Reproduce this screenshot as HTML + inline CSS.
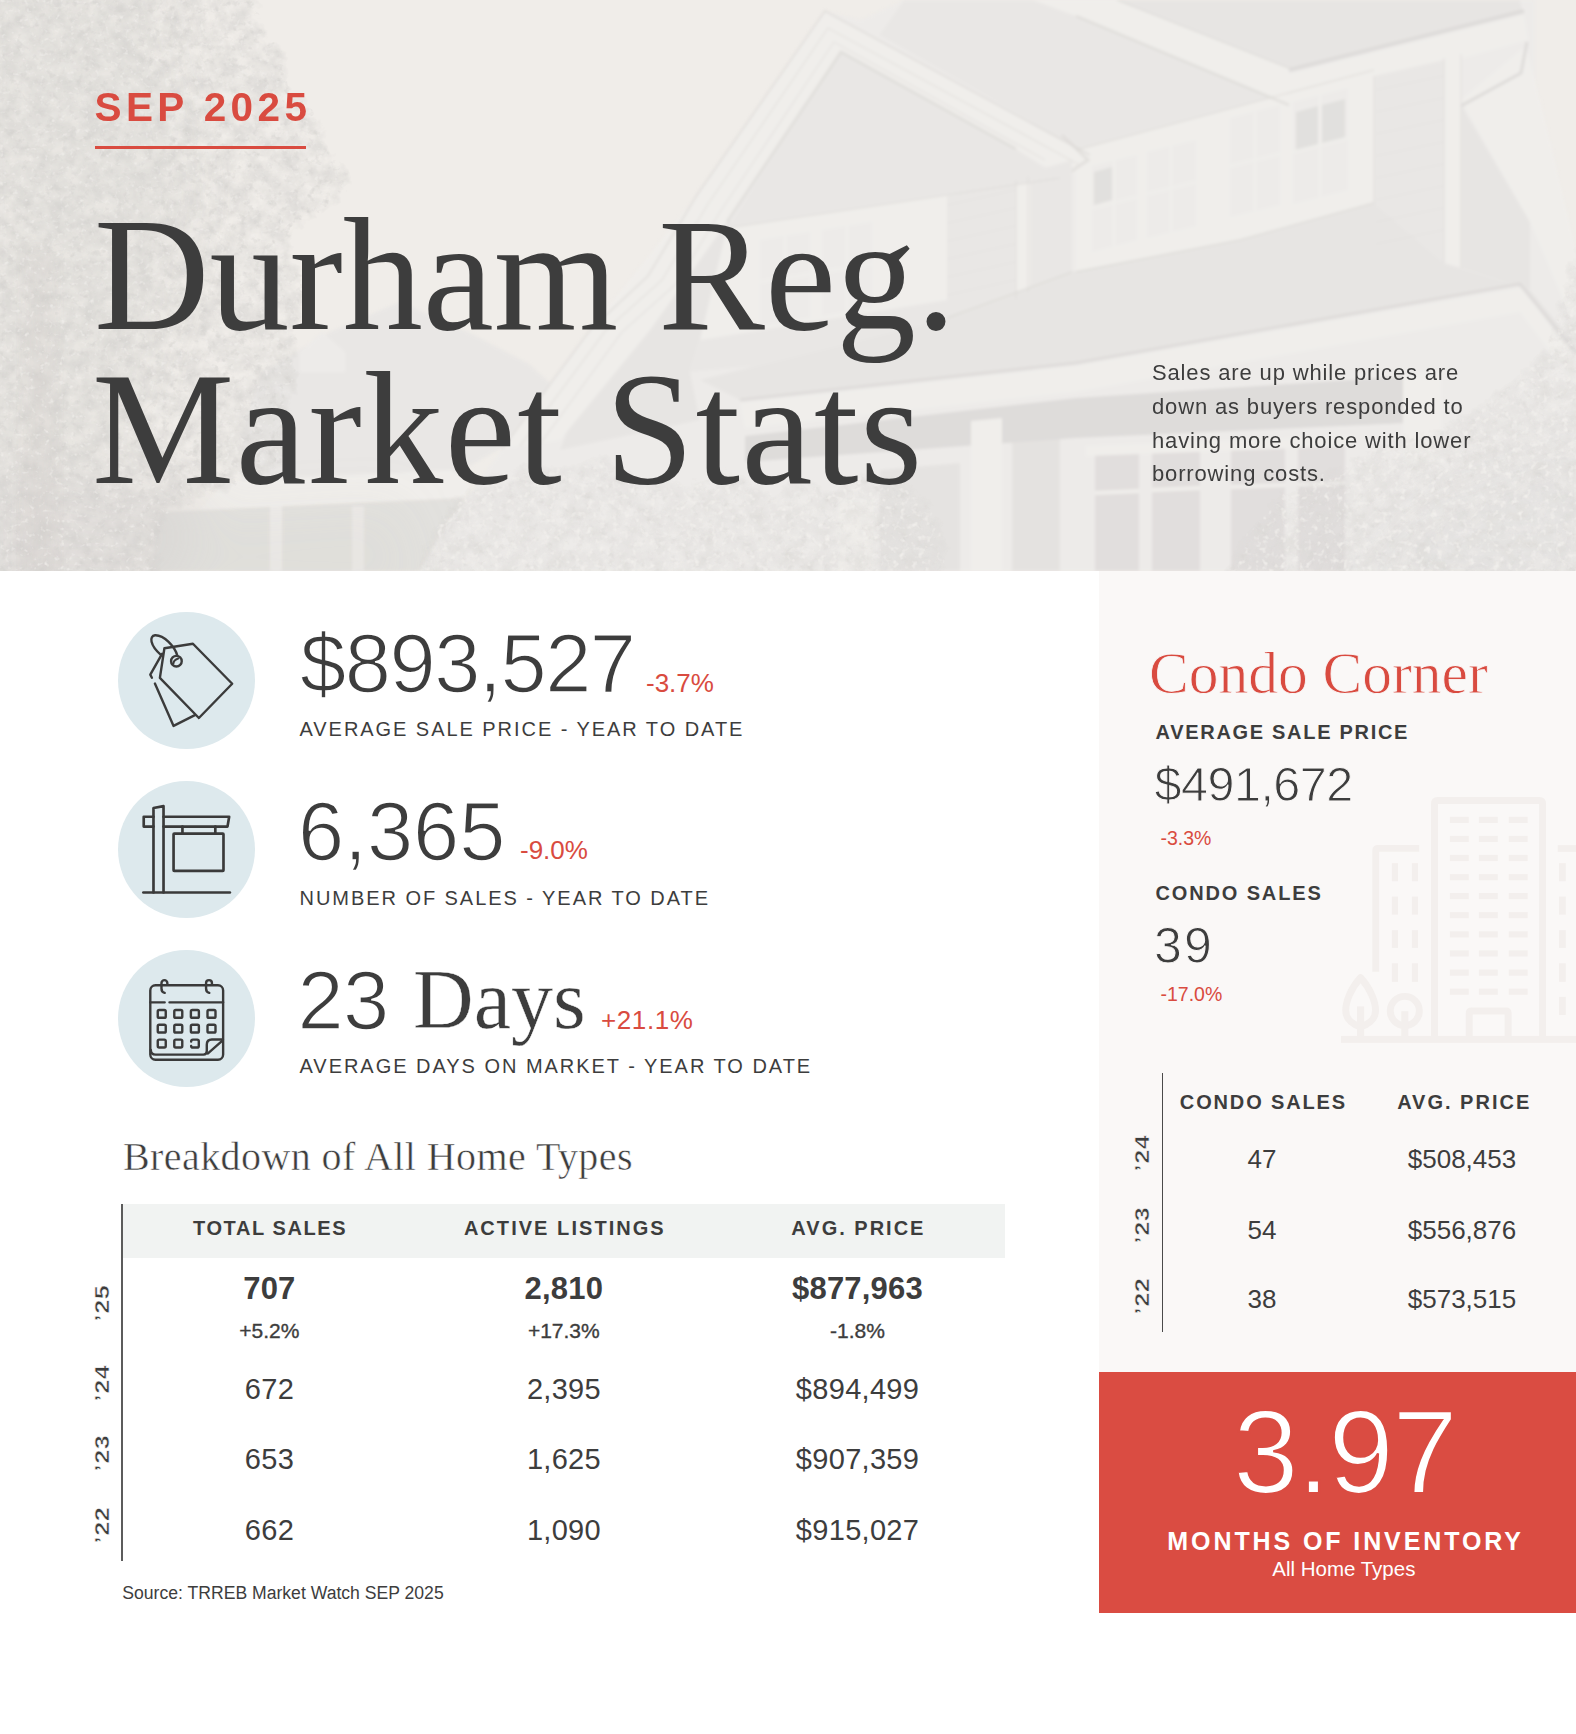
<!DOCTYPE html>
<html lang="en"><head><meta charset="utf-8"><title>Durham Reg. Market Stats</title>
<style>
html,body{margin:0;padding:0;background:#fff;}
body{width:1576px;height:1734px;position:relative;overflow:hidden;}
.t{position:absolute;white-space:nowrap;margin:0;padding:0;}
.r{position:absolute;}
svg{position:absolute;display:block;}
</style></head><body>
<svg style="left:0;top:0" width="1576" height="571" viewBox="0 0 1576 571">
<defs>
<filter id="soft" x="-2%" y="-2%" width="104%" height="104%"><feGaussianBlur stdDeviation="1.4"/></filter>
<filter id="fA" filterUnits="userSpaceOnUse" x="0" y="0" width="1576" height="571" color-interpolation-filters="sRGB">
<feTurbulence type="fractalNoise" baseFrequency="0.06 0.065" numOctaves="4" seed="7"/>
<feColorMatrix type="matrix" values="0 0 0 0 0  0 0 0 0 0  0 0 0 0 0  1 0 0 0 0" result="n"/>
<feGaussianBlur in="SourceAlpha" stdDeviation="7" result="sa"/>
<feComposite in="n" in2="sa" operator="arithmetic" k1="0" k2="0.5" k3="0.5" k4="0"/>
<feComponentTransfer result="a"><feFuncA type="linear" slope="3.2" intercept="-2.016"/></feComponentTransfer>
<feFlood flood-color="#dbd9d6"/><feComposite in2="a" operator="in"/>
</filter>
<filter id="fB" filterUnits="userSpaceOnUse" x="0" y="0" width="1576" height="571" color-interpolation-filters="sRGB">
<feTurbulence type="fractalNoise" baseFrequency="0.13 0.14" numOctaves="3" seed="21"/>
<feColorMatrix type="matrix" values="0 0 0 0 0  0 0 0 0 0  0 0 0 0 0  1 0 0 0 0" result="n"/>
<feGaussianBlur in="SourceAlpha" stdDeviation="6" result="sa"/>
<feComposite in="n" in2="sa" operator="arithmetic" k1="0" k2="0.5" k3="0.5" k4="0"/>
<feComponentTransfer result="a"><feFuncA type="linear" slope="4.0" intercept="-3.100"/></feComponentTransfer>
<feFlood flood-color="#d3d1ce"/><feComposite in2="a" operator="in"/>
</filter>
<filter id="fC" filterUnits="userSpaceOnUse" x="0" y="0" width="1576" height="571" color-interpolation-filters="sRGB">
<feTurbulence type="fractalNoise" baseFrequency="0.2 0.21" numOctaves="2" seed="5"/>
<feColorMatrix type="matrix" values="0 0 0 0 0  0 0 0 0 0  0 0 0 0 0  1 0 0 0 0" result="n"/>
<feGaussianBlur in="SourceAlpha" stdDeviation="6" result="sa"/>
<feComposite in="n" in2="sa" operator="arithmetic" k1="0" k2="0.5" k3="0.5" k4="0"/>
<feComponentTransfer result="a"><feFuncA type="linear" slope="5.0" intercept="-4.000"/></feComponentTransfer>
<feFlood flood-color="#f1efec"/><feComposite in2="a" operator="in"/>
</filter>
<filter id="fC2" filterUnits="userSpaceOnUse" x="0" y="0" width="1576" height="571" color-interpolation-filters="sRGB">
<feTurbulence type="fractalNoise" baseFrequency="0.16 0.17" numOctaves="2" seed="9"/>
<feColorMatrix type="matrix" values="0 0 0 0 0  0 0 0 0 0  0 0 0 0 0  1 0 0 0 0" result="n"/>
<feGaussianBlur in="SourceAlpha" stdDeviation="6" result="sa"/>
<feComposite in="n" in2="sa" operator="arithmetic" k1="0" k2="0.5" k3="0.5" k4="0"/>
<feComponentTransfer result="a"><feFuncA type="linear" slope="6.0" intercept="-4.620"/></feComponentTransfer>
<feFlood flood-color="#f1efec"/><feComposite in2="a" operator="in"/>
</filter>
<filter id="blur25"><feGaussianBlur stdDeviation="25"/></filter>
<filter id="blur8"><feGaussianBlur stdDeviation="8"/></filter>
</defs>
<rect width="1576" height="571" fill="#f0ede9"/>
<g filter="url(#soft)">
<polygon points="262,372 330,332 400,302 470,333 529,364 560,392 500,449 444,480 240,489 245,420" fill="#e9e7e5" />
<polygon points="300,352 322,332 345,352 345,372 300,372" fill="#edebe9" />
<polygon points="225,482 452,470 470,486 462,498 200,510" fill="#f0eeeb" />
<polygon points="160,512 462,498 462,571 150,571" fill="#dedcda" opacity="0.75" />
<polygon points="352,506 364,506 364,571 352,571" fill="#edebe9" opacity="0.8" />
<polygon points="270,506 282,506 282,571 270,571" fill="#edebe9" />
<polygon points="825,11 697,195 591,329 502,449 440,535 420,571 1576,571 1576,300 1535,230 1535,0 1100,0 904,0 860,20" fill="#edebe9" />
<polygon points="609,318 697,200 760,240 700,340 690,372 700,420 560,450" fill="#e7e5e3" />
<polygon points="879,35 904,0 1117,0 1289,68 1289,105 1090,155" fill="#e9e7e5" />
<polygon points="1117,0 1520,0 1522,10 1289,68" fill="#e7e5e3" />
<polygon points="1033,0 1117,0 1289,68 1289,105 1076,16" fill="#f0eeeb" />
<polyline points="1289,70 1524,11" fill="none" stroke="#dedcda" stroke-width="4"/>
<polygon points="1289,74 1524,15 1528,40 1289,106" fill="#f0eeeb" />
<polygon points="1461,100 1526,46 1545,120 1576,250 1576,330 1532,226" fill="#f0eeeb" />
<polyline points="1527,42 1521,73 1461,106 1461,130" fill="none" stroke="#dedcda" stroke-width="3"/>
<polygon points="1076,150 1374,70 1374,203 1240,240 1076,272" fill="#f0eeeb" />
<polygon points="1092,166 1137,155 1137,240 1092,252" fill="#edebe9" />
<polygon points="1147,152 1196,140 1196,226 1147,238" fill="#edebe9" />
<polygon points="1230,118 1280,105 1280,205 1230,217" fill="#edebe9" />
<polygon points="1293,102 1348,88 1348,190 1293,204" fill="#edebe9" />
<polygon points="1296,112 1318,106 1318,146 1296,152" fill="#dcdcd8" opacity="0.7" />
<polygon points="1322,105 1345,99 1345,139 1322,145" fill="#dcdcd8" opacity="0.7" />
<polygon points="1094,172 1112,167 1112,200 1094,205" fill="#dcdcd8" opacity="0.7" />
<polygon points="1374,76 1444,60 1444,263 1374,232" fill="#e9e7e5" />
<polygon points="1444,58 1461,54 1461,268 1444,263" fill="#f0eeeb" />
<polygon points="1461,105 1530,222 1530,290 1461,268" fill="#e7e5e3" />
<polygon points="841,52 1016,149 1060,178 727,228" fill="#e9e7e5" />
<polygon points="825,11 1090,155 1069,180 1016,149 841,52 727,222 650,330 560,440 500,449 591,329 697,195" fill="#f0eeeb" />
<polyline points="1062,135 1088,160 1076,168 1036,200 1036,290" fill="none" stroke="#dedcda" stroke-width="3" opacity="0.8"/>
<polygon points="727,228 1060,178 1072,272 947,318 700,340" fill="#f0eeeb" />
<polygon points="947,196 1016,180 1016,300 947,318" fill="#e9e7e5" />
<polygon points="1030,172 1072,160 1072,272 1030,288" fill="#e9e7e5" />
<polygon points="760,240 810,232 810,318 760,326" fill="#edebe9" />
<polygon points="822,230 872,222 872,308 822,316" fill="#edebe9" />
<polygon points="700,340 947,300 947,318 755,366 690,372" fill="#e9e7e5" />
<polygon points="700,380 755,366 947,318 1072,272 1240,240 1374,203 1444,263 1530,290 1576,345 1576,360 1520,284 1076,363 740,400" fill="#e7e5e3" />
<polyline points="740,400 1076,363 1520,284 1576,352" fill="none" stroke="#dedcda" stroke-width="3"/>
<polygon points="740,403 1076,366 1520,288 1576,358 1576,385 1520,312 1076,392 745,428" fill="#f0eeeb" />
<polygon points="745,436 1076,398 1409,376 1409,423 1076,438 745,462" fill="#dedcda" />
<polygon points="745,470 1076,440 1409,423 1409,571 745,571" fill="#edebe9" />
<polygon points="1095,455 1139,453 1139,571 1095,571" fill="#dedcda" opacity="0.85" />
<polyline points="1095,493 1139,491" fill="none" stroke="#f0eeeb" stroke-width="4"/>
<polygon points="1152,452 1200,450 1200,571 1152,571" fill="#dedcda" opacity="0.85" />
<polyline points="1152,490 1200,488" fill="none" stroke="#f0eeeb" stroke-width="4"/>
<polygon points="1231,449 1285,447 1285,571 1231,571" fill="#dedcda" opacity="0.85" />
<polyline points="1231,487 1285,485" fill="none" stroke="#f0eeeb" stroke-width="4"/>
<polygon points="1298,447 1345,445 1345,571 1298,571" fill="#dedcda" opacity="0.85" />
<polyline points="1298,485 1345,483" fill="none" stroke="#f0eeeb" stroke-width="4"/>
<polygon points="1086,446 1352,436 1352,446 1086,456" fill="#f0eeeb" />
<polygon points="971,421 1002,418 1002,571 971,571" fill="#f0eeeb" />
<polygon points="838,501 875,499 875,571 838,571" fill="#f0eeeb" />
<polygon points="1403,376 1441,372 1441,461 1403,465" fill="#f0eeeb" />
<polygon points="1012,440 1060,436 1060,571 1012,571" fill="#dedcda" opacity="0.6" />
<polygon points="880,470 960,463 960,571 880,571" fill="#dedcda" opacity="0.5" />
<polyline points="502,449 591,329 648,276 697,195 825,11 1090,155" fill="none" stroke="#dcdad7" stroke-width="1.6" opacity="0.8"/>
<polyline points="520,446 606,330 662,280 708,204 828,28 1078,164" fill="none" stroke="#dcdad7" stroke-width="1.3" opacity="0.6"/>
<polyline points="540,444 622,332 676,284 720,212 834,42 1045,160" fill="none" stroke="#dcdad7" stroke-width="1.3" opacity="0.5"/>
<polyline points="727,222 841,52 1016,149" fill="none" stroke="#dcdad7" stroke-width="3" opacity="0.7"/>
<polyline points="1117,0 1289,68" fill="none" stroke="#dcdad7" stroke-width="1.6" opacity="0.7"/>
<polyline points="1076,16 1289,105" fill="none" stroke="#dcdad7" stroke-width="2.5" opacity="0.7"/>
<polyline points="727,228 1060,178" fill="none" stroke="#dcdad7" stroke-width="1.5" opacity="0.6"/>
<polyline points="1076,150 1374,70" fill="none" stroke="#dcdad7" stroke-width="1.5" opacity="0.6"/>
<polyline points="1076,272 1240,240 1374,203" fill="none" stroke="#dcdad7" stroke-width="2" opacity="0.6"/>
<polyline points="947,318 1072,272" fill="none" stroke="#dcdad7" stroke-width="2" opacity="0.6"/>
<polyline points="1444,58 1444,263" fill="none" stroke="#dcdad7" stroke-width="1.3" opacity="0.6"/>
<polyline points="1461,54 1461,268" fill="none" stroke="#dcdad7" stroke-width="1.3" opacity="0.6"/>
<polyline points="1374,76 1374,203" fill="none" stroke="#dcdad7" stroke-width="1.3" opacity="0.6"/>
<polyline points="1016,180 1016,300" fill="none" stroke="#dcdad7" stroke-width="1.3" opacity="0.6"/>
<polyline points="1028,176 1028,292" fill="none" stroke="#dcdad7" stroke-width="1.3" opacity="0.6"/>
<polyline points="1114,160 1114,246" fill="none" stroke="#f0eeeb" stroke-width="3" opacity="0.9"/>
<polyline points="1171,146 1171,232" fill="none" stroke="#f0eeeb" stroke-width="3" opacity="0.9"/>
<polyline points="1255,112 1255,211" fill="none" stroke="#f0eeeb" stroke-width="3" opacity="0.9"/>
<polyline points="1320,95 1320,197" fill="none" stroke="#f0eeeb" stroke-width="3" opacity="0.9"/>
<polyline points="785,236 785,322" fill="none" stroke="#f0eeeb" stroke-width="3" opacity="0.9"/>
<polyline points="847,226 847,312" fill="none" stroke="#f0eeeb" stroke-width="3" opacity="0.9"/>
<polyline points="1092,208 1137,197" fill="none" stroke="#f0eeeb" stroke-width="3" opacity="0.9"/>
<polyline points="1147,194 1196,182" fill="none" stroke="#f0eeeb" stroke-width="3" opacity="0.9"/>
<polyline points="1230,166 1280,154" fill="none" stroke="#f0eeeb" stroke-width="3" opacity="0.9"/>
<polyline points="1293,152 1348,138" fill="none" stroke="#f0eeeb" stroke-width="3" opacity="0.9"/>
<polyline points="760,282 810,274" fill="none" stroke="#f0eeeb" stroke-width="3" opacity="0.9"/>
<polyline points="822,272 872,264" fill="none" stroke="#f0eeeb" stroke-width="3" opacity="0.9"/>
<polyline points="1376,90 1443,76" fill="none" stroke="#dcdad7" stroke-width="1" opacity="0.45"/>
<polyline points="1376,112 1443,98" fill="none" stroke="#dcdad7" stroke-width="1" opacity="0.45"/>
<polyline points="1376,134 1443,120" fill="none" stroke="#dcdad7" stroke-width="1" opacity="0.45"/>
<polyline points="1376,156 1443,142" fill="none" stroke="#dcdad7" stroke-width="1" opacity="0.45"/>
<polyline points="1376,178 1443,164" fill="none" stroke="#dcdad7" stroke-width="1" opacity="0.45"/>
<polyline points="1376,200 1443,186" fill="none" stroke="#dcdad7" stroke-width="1" opacity="0.45"/>
<polyline points="1376,222 1443,208" fill="none" stroke="#dcdad7" stroke-width="1" opacity="0.45"/>
<polyline points="1376,244 1443,230" fill="none" stroke="#dcdad7" stroke-width="1" opacity="0.45"/>
<polyline points="948,205 1015,190" fill="none" stroke="#dcdad7" stroke-width="1" opacity="0.45"/>
<polyline points="948,223 1015,208" fill="none" stroke="#dcdad7" stroke-width="1" opacity="0.45"/>
<polyline points="948,241 1015,226" fill="none" stroke="#dcdad7" stroke-width="1" opacity="0.45"/>
<polyline points="948,259 1015,244" fill="none" stroke="#dcdad7" stroke-width="1" opacity="0.45"/>
<polyline points="948,277 1015,262" fill="none" stroke="#dcdad7" stroke-width="1" opacity="0.45"/>
<polyline points="948,295 1015,280" fill="none" stroke="#dcdad7" stroke-width="1" opacity="0.45"/>
</g>
<g filter="url(#fA)"><polygon points="-30,-30 262,-30 266,20 289,50 296,85 322,110 334,150 358,172 352,198 326,214 300,232 290,256 318,282 310,310 302,330 300,400 292,470 215,500 170,520 160,600 -30,600"/></g>
<g filter="url(#fA)" opacity="0.62"><polygon points="570,600 582,530 606,498 640,474 700,478 720,462 770,488 800,474 830,486 860,464 900,476 934,498 950,540 955,600"/><polygon points="1205,600 1235,540 1275,490 1330,466 1380,436 1430,426 1488,394 1520,366 1540,346 1556,300 1566,250 1600,230 1600,600"/><polygon points="410,600 420,545 440,505 470,480 520,462 575,460 600,450 640,474 650,600"/></g>
<g filter="url(#blur25)" fill="#cfcdca">
<polygon points="-30,470 200,490 160,600 -30,600" opacity="0.4"/>
<polygon points="-30,-30 150,-30 200,200 120,480 -30,480" opacity="0.2"/>
<polygon points="1330,600 1420,500 1600,430 1600,600" opacity="0.12"/>
<polygon points="150,520 400,505 420,600 150,600" opacity="0.15"/>
</g>
<g filter="url(#blur8)" fill="#cfcdca"><polygon points="24,250 52,250 60,600 20,600" opacity="0.3"/></g>
<g filter="url(#fB)"><polygon points="-30,-30 262,-30 266,20 289,50 296,85 322,110 334,150 358,172 352,198 326,214 300,232 290,256 318,282 310,310 302,330 300,400 292,470 215,500 170,520 160,600 -30,600"/></g>
<g filter="url(#fB)" opacity="0.5"><polygon points="570,600 582,530 606,498 640,474 700,478 720,462 770,488 800,474 830,486 860,464 900,476 934,498 950,540 955,600"/><polygon points="1205,600 1235,540 1275,490 1330,466 1380,436 1430,426 1488,394 1520,366 1540,346 1556,300 1566,250 1600,230 1600,600"/><polygon points="410,600 420,545 440,505 470,480 520,462 575,460 600,450 640,474 650,600"/></g>
<g filter="url(#fC)"><polygon points="-30,-30 262,-30 266,20 289,50 296,85 322,110 334,150 358,172 352,198 326,214 300,232 290,256 318,282 310,310 302,330 300,400 292,470 215,500 170,520 160,600 -30,600"/></g>
<g filter="url(#fC2)"><polygon points="570,600 582,530 606,498 640,474 700,478 720,462 770,488 800,474 830,486 860,464 900,476 934,498 950,540 955,600"/><polygon points="1205,600 1235,540 1275,490 1330,466 1380,436 1430,426 1488,394 1520,366 1540,346 1556,300 1566,250 1600,230 1600,600"/><polygon points="410,600 420,545 440,505 470,480 520,462 575,460 600,450 640,474 650,600"/></g>
</svg>
<div class="t" style="left:94.50px;top:86.72px;font:700 40.5px/1 'Liberation Sans', Arial, sans-serif;color:#d94b40;letter-spacing:4.4px;">SEP 2025</div>
<div class="r" style="left:94.5px;top:146px;width:211px;height:3px;background:#d94b40;"></div>
<div class="t" style="left:94.00px;top:195.00px;font:400 160px/1 'Liberation Serif', 'Times New Roman', serif;color:#3d3d3d;">Durham Reg.</div>
<div class="t" style="left:92.00px;top:348.60px;font:400 160px/1 'Liberation Serif', 'Times New Roman', serif;color:#3d3d3d;letter-spacing:1.55px;">Market Stats</div>
<div class="t" style="left:1152.00px;top:361.98px;font:400 22px/1 'Liberation Sans', Arial, sans-serif;color:#3d3d3d;letter-spacing:0.85px;">Sales are up while prices are</div>
<div class="t" style="left:1152.00px;top:395.78px;font:400 22px/1 'Liberation Sans', Arial, sans-serif;color:#3d3d3d;letter-spacing:0.85px;">down as buyers responded to</div>
<div class="t" style="left:1152.00px;top:429.58px;font:400 22px/1 'Liberation Sans', Arial, sans-serif;color:#3d3d3d;letter-spacing:0.85px;">having more choice with lower</div>
<div class="t" style="left:1152.00px;top:463.38px;font:400 22px/1 'Liberation Sans', Arial, sans-serif;color:#3d3d3d;letter-spacing:0.85px;">borrowing costs.</div>
<div class="r" style="left:118px;top:612.0px;width:137px;height:137px;border-radius:50%;background:#dde9ed"></div>
<div class="r" style="left:118px;top:781.0px;width:137px;height:137px;border-radius:50%;background:#dde9ed"></div>
<div class="r" style="left:118px;top:950.0px;width:137px;height:137px;border-radius:50%;background:#dde9ed"></div>
<svg style="left:116px;top:610px" width="140" height="140" viewBox="0 0 1576 1576" fill="none" stroke="#3b3b3b" stroke-width="27" stroke-linecap="round" stroke-linejoin="round">
<path d="M545 430 L866 380 L1308 830 L933 1216 L494 764 Z"/>
<circle cx="680" cy="576" r="60"/>
<path d="M646 600 Q652 560 700 546" stroke-width="24"/>
<path d="M690 512 C662 410 540 280 440 284 C372 292 380 400 508 508"/>
<path d="M520 492 L386 728 L404 762"/>
<path d="M438 828 L648 1305 L888 1184"/>
</svg>
<svg style="left:116px;top:779px" width="140" height="140" viewBox="0 0 1576 1576" fill="none" stroke="#3a3a3a" stroke-width="30" stroke-linecap="round" stroke-linejoin="round">
<path d="M308 1278 L1282 1278"/>
<path d="M422 1278 L422 326 L535 306 L535 1278"/>
<path d="M422 425 L312 425 L312 536 L422 536"/>
<path d="M535 425 L1274 425 L1255 536 L535 536"/>
<path d="M748 536 L748 615 M1118 536 L1118 615"/>
<rect x="648" y="615" width="562" height="420" rx="8"/>
</svg>
<svg style="left:116px;top:948px" width="140" height="140" viewBox="0 0 1576 1576" fill="none" stroke="#3a3a3a" stroke-width="27" stroke-linecap="round" stroke-linejoin="round">
<rect x="386" y="420" width="820" height="838" rx="58"/>
<path d="M386 612 L548 612 M602 612 L1206 612"/>
<path d="M548 505 Q512 495 512 455 L512 395 A33 33 0 0 1 578 395 L578 410"/>
<path d="M1050 505 Q1014 495 1014 455 L1014 395 A33 33 0 0 1 1080 395 L1080 410"/>
<g>
<rect x="470" y="698" width="90" height="88" rx="16"/><rect x="656" y="698" width="90" height="88" rx="16"/><rect x="843" y="698" width="90" height="88" rx="16"/><rect x="1030" y="698" width="90" height="88" rx="16"/>
<rect x="470" y="864" width="90" height="88" rx="16"/><rect x="656" y="864" width="90" height="88" rx="16"/><rect x="843" y="864" width="90" height="88" rx="16"/><rect x="1030" y="864" width="90" height="88" rx="16"/>
<rect x="470" y="1032" width="90" height="88" rx="16"/><rect x="656" y="1032" width="90" height="88" rx="16"/>
<path d="M846 1052 Q846 1032 866 1032 L914 1032 Q932 1032 932 1050 L932 1102 Q932 1120 914 1120 L866 1120 Q846 1120 846 1102"/>
</g>
<path d="M392 1148 Q392 1200 446 1200 L984 1200 Q1022 1200 1022 1160 L1022 1088 Q1022 1030 1080 1030 L1204 1030"/>
<path d="M1032 1188 L1198 1042"/>
</svg>

<div class="t" style="left:300.00px;top:621.94px;font:400 83px/1 'Liberation Sans', Arial, sans-serif;color:#3d3d3d;letter-spacing:-1.45px;-webkit-text-stroke:1.6px #fff;">$893,527</div>
<div class="t" style="left:646.00px;top:669.69px;font:400 26px/1 'Liberation Sans', Arial, sans-serif;color:#d94b40;">-3.7%</div>
<div class="t" style="left:299.50px;top:719.07px;font:400 20px/1 'Liberation Sans', Arial, sans-serif;color:#3d3d3d;letter-spacing:1.95px;">AVERAGE SALE PRICE - YEAR TO DATE</div>
<div class="t" style="left:298.00px;top:789.74px;font:400 83px/1 'Liberation Sans', Arial, sans-serif;color:#3d3d3d;letter-spacing:-0.1px;-webkit-text-stroke:1.6px #fff;">6,365</div>
<div class="t" style="left:520.00px;top:837.49px;font:400 26px/1 'Liberation Sans', Arial, sans-serif;color:#d94b40;">-9.0%</div>
<div class="t" style="left:299.50px;top:888.07px;font:400 20px/1 'Liberation Sans', Arial, sans-serif;color:#3d3d3d;letter-spacing:1.95px;">NUMBER OF SALES - YEAR TO DATE</div>
<div class="t" style="left:297.50px;top:959.04px;font:400 83px/1 'Liberation Sans', Arial, sans-serif;color:#3d3d3d;letter-spacing:-0.6px;-webkit-text-stroke:1.6px #fff;">23</div>
<div class="t" style="left:413.00px;top:958.45px;font:400 84px/1 'Liberation Serif', 'Times New Roman', serif;color:#3d3d3d;-webkit-text-stroke:0.4px #fff;">Days</div>
<div class="t" style="left:601.00px;top:1006.79px;font:400 26px/1 'Liberation Sans', Arial, sans-serif;color:#d94b40;letter-spacing:0.6px;">+21.1%</div>
<div class="t" style="left:299.50px;top:1056.37px;font:400 20px/1 'Liberation Sans', Arial, sans-serif;color:#3d3d3d;letter-spacing:1.97px;">AVERAGE DAYS ON MARKET - YEAR TO DATE</div>
<div class="t" style="left:123.00px;top:1137.00px;font:400 40px/1 'Liberation Serif', 'Times New Roman', serif;color:#3d3d3d;letter-spacing:0.42px;-webkit-text-stroke:0.5px #fff;">Breakdown of All Home Types</div>
<div class="r" style="left:122px;top:1203.6px;width:882.6px;height:54.8px;background:#f1f3f2;"></div>
<div class="r" style="left:121.3px;top:1204px;width:1.6px;height:357px;background:#5c5c5c;"></div>
<div class="t" style="left:269.30px;top:1217.87px;font:700 20px/1 'Liberation Sans', Arial, sans-serif;color:#3d3d3d;letter-spacing:1.6px;transform:translateX(-50%);margin-left:0.80px;">TOTAL SALES</div>
<div class="t" style="left:563.80px;top:1217.87px;font:700 20px/1 'Liberation Sans', Arial, sans-serif;color:#3d3d3d;letter-spacing:2.05px;transform:translateX(-50%);margin-left:1.02px;">ACTIVE LISTINGS</div>
<div class="t" style="left:857.40px;top:1217.87px;font:700 20px/1 'Liberation Sans', Arial, sans-serif;color:#3d3d3d;letter-spacing:2.0px;transform:translateX(-50%);margin-left:1.00px;">AVG. PRICE</div>
<div class="t" style="left:269.30px;top:1273.46px;font:700 31px/1 'Liberation Sans', Arial, sans-serif;color:#3d3d3d;letter-spacing:0.2px;transform:translateX(-50%);margin-left:0.10px;">707</div>
<div class="t" style="left:563.80px;top:1273.46px;font:700 31px/1 'Liberation Sans', Arial, sans-serif;color:#3d3d3d;letter-spacing:0.2px;transform:translateX(-50%);margin-left:0.10px;">2,810</div>
<div class="t" style="left:857.40px;top:1273.46px;font:700 31px/1 'Liberation Sans', Arial, sans-serif;color:#3d3d3d;letter-spacing:0.2px;transform:translateX(-50%);margin-left:0.10px;">$877,963</div>
<div class="t" style="left:269.30px;top:1320.02px;font:400 21px/1 'Liberation Sans', Arial, sans-serif;color:#3d3d3d;transform:translateX(-50%);-webkit-text-stroke:0.35px #3d3d3d;">+5.2%</div>
<div class="t" style="left:563.80px;top:1320.02px;font:400 21px/1 'Liberation Sans', Arial, sans-serif;color:#3d3d3d;transform:translateX(-50%);-webkit-text-stroke:0.35px #3d3d3d;">+17.3%</div>
<div class="t" style="left:857.40px;top:1320.02px;font:400 21px/1 'Liberation Sans', Arial, sans-serif;color:#3d3d3d;transform:translateX(-50%);-webkit-text-stroke:0.35px #3d3d3d;">-1.8%</div>
<div class="t" style="left:269.30px;top:1375.05px;font:400 29px/1 'Liberation Sans', Arial, sans-serif;color:#3d3d3d;letter-spacing:0.3px;transform:translateX(-50%);margin-left:0.15px;">672</div>
<div class="t" style="left:563.80px;top:1375.05px;font:400 29px/1 'Liberation Sans', Arial, sans-serif;color:#3d3d3d;letter-spacing:0.3px;transform:translateX(-50%);margin-left:0.15px;">2,395</div>
<div class="t" style="left:857.40px;top:1375.05px;font:400 29px/1 'Liberation Sans', Arial, sans-serif;color:#3d3d3d;letter-spacing:0.3px;transform:translateX(-50%);margin-left:0.15px;">$894,499</div>
<div class="t" style="left:269.30px;top:1445.45px;font:400 29px/1 'Liberation Sans', Arial, sans-serif;color:#3d3d3d;letter-spacing:0.3px;transform:translateX(-50%);margin-left:0.15px;">653</div>
<div class="t" style="left:563.80px;top:1445.45px;font:400 29px/1 'Liberation Sans', Arial, sans-serif;color:#3d3d3d;letter-spacing:0.3px;transform:translateX(-50%);margin-left:0.15px;">1,625</div>
<div class="t" style="left:857.40px;top:1445.45px;font:400 29px/1 'Liberation Sans', Arial, sans-serif;color:#3d3d3d;letter-spacing:0.3px;transform:translateX(-50%);margin-left:0.15px;">$907,359</div>
<div class="t" style="left:269.30px;top:1515.75px;font:400 29px/1 'Liberation Sans', Arial, sans-serif;color:#3d3d3d;letter-spacing:0.3px;transform:translateX(-50%);margin-left:0.15px;">662</div>
<div class="t" style="left:563.80px;top:1515.75px;font:400 29px/1 'Liberation Sans', Arial, sans-serif;color:#3d3d3d;letter-spacing:0.3px;transform:translateX(-50%);margin-left:0.15px;">1,090</div>
<div class="t" style="left:857.40px;top:1515.75px;font:400 29px/1 'Liberation Sans', Arial, sans-serif;color:#3d3d3d;letter-spacing:0.3px;transform:translateX(-50%);margin-left:0.15px;">$915,027</div>
<div class="t" style="left:101.2px;top:1302.50px;font:700 21px/1 'Liberation Sans', Arial, sans-serif;color:#3d3d3d;letter-spacing:0.5px;-webkit-text-stroke:0.5px #fff;transform:translate(-50%,-50%) rotate(-90deg) scaleX(1.2);">’25</div>
<div class="t" style="left:101.2px;top:1382.60px;font:700 21px/1 'Liberation Sans', Arial, sans-serif;color:#3d3d3d;letter-spacing:0.5px;-webkit-text-stroke:0.5px #fff;transform:translate(-50%,-50%) rotate(-90deg) scaleX(1.2);">’24</div>
<div class="t" style="left:101.2px;top:1453.20px;font:700 21px/1 'Liberation Sans', Arial, sans-serif;color:#3d3d3d;letter-spacing:0.5px;-webkit-text-stroke:0.5px #fff;transform:translate(-50%,-50%) rotate(-90deg) scaleX(1.2);">’23</div>
<div class="t" style="left:101.2px;top:1524.50px;font:700 21px/1 'Liberation Sans', Arial, sans-serif;color:#3d3d3d;letter-spacing:0.5px;-webkit-text-stroke:0.5px #fff;transform:translate(-50%,-50%) rotate(-90deg) scaleX(1.2);">’22</div>
<div class="t" style="left:122.30px;top:1584.50px;font:400 17.6px/1 'Liberation Sans', Arial, sans-serif;color:#3d3d3d;">Source: TRREB Market Watch SEP 2025</div>
<div class="r" style="left:1099px;top:571px;width:477px;height:801px;background:#faf8f7;"></div>
<svg style="left:1330px;top:780px" width="246" height="280" viewBox="0 0 1523 1734" fill="#f3efed" stroke="none">
<rect x="68" y="1585" width="1460" height="43"/>
<path d="M647 1606 L647 147 Q647 127 667 127 L1296 127 Q1316 127 1316 147 L1316 1606" fill="none" stroke="#f3efed" stroke-width="43"/>
<path d="M862 1606 L862 1445 Q862 1430 877 1430 L1088 1430 Q1103 1430 1103 1445 L1103 1606" fill="none" stroke="#f3efed" stroke-width="43"/>
<path d="M552 424 L297 424 Q283 424 283 438 L283 1188" fill="none" stroke="#f3efed" stroke-width="42"/>
<path d="M1410 424 L1530 424" fill="none" stroke="#f3efed" stroke-width="42"/>
<rect x="742" y="228" width="117" height="38"/><rect x="922" y="228" width="117" height="38"/><rect x="1107" y="228" width="117" height="38"/><rect x="742" y="346" width="117" height="38"/><rect x="922" y="346" width="117" height="38"/><rect x="1107" y="346" width="117" height="38"/><rect x="742" y="464" width="117" height="38"/><rect x="922" y="464" width="117" height="38"/><rect x="1107" y="464" width="117" height="38"/><rect x="742" y="583" width="117" height="38"/><rect x="922" y="583" width="117" height="38"/><rect x="1107" y="583" width="117" height="38"/><rect x="742" y="700" width="117" height="38"/><rect x="922" y="700" width="117" height="38"/><rect x="1107" y="700" width="117" height="38"/><rect x="742" y="818" width="117" height="38"/><rect x="922" y="818" width="117" height="38"/><rect x="1107" y="818" width="117" height="38"/><rect x="742" y="937" width="117" height="38"/><rect x="922" y="937" width="117" height="38"/><rect x="1107" y="937" width="117" height="38"/><rect x="742" y="1055" width="117" height="38"/><rect x="922" y="1055" width="117" height="38"/><rect x="1107" y="1055" width="117" height="38"/><rect x="742" y="1174" width="117" height="38"/><rect x="922" y="1174" width="117" height="38"/><rect x="1107" y="1174" width="117" height="38"/><rect x="742" y="1292" width="117" height="38"/><rect x="922" y="1292" width="117" height="38"/><rect x="1107" y="1292" width="117" height="38"/><rect x="383" y="515" width="38" height="112"/><rect x="507" y="515" width="38" height="112"/><rect x="383" y="722" width="38" height="112"/><rect x="507" y="722" width="38" height="112"/><rect x="383" y="930" width="38" height="110"/><rect x="507" y="930" width="38" height="110"/><rect x="383" y="1135" width="38" height="115"/><rect x="507" y="1135" width="38" height="115"/><rect x="1418" y="515" width="42" height="112"/><rect x="1418" y="722" width="42" height="112"/><rect x="1418" y="930" width="42" height="110"/><rect x="1418" y="1135" width="42" height="115"/><rect x="1418" y="1343" width="42" height="112"/>
<path d="M189 1224 C250 1292 282 1372 282 1428 C282 1490 232 1514 189 1530 C146 1514 97 1490 97 1428 C97 1372 128 1292 189 1224 Z" fill="none" stroke="#f3efed" stroke-width="43" stroke-linejoin="round"/>
<rect x="167" y="1402" width="44" height="190"/>
<circle cx="463" cy="1430" r="90" fill="none" stroke="#f3efed" stroke-width="43"/>
<rect x="441" y="1432" width="44" height="160"/>
</svg>

<div class="t" style="left:1149.00px;top:644.47px;font:400 59.5px/1 'Liberation Serif', 'Times New Roman', serif;color:#d94b40;-webkit-text-stroke:0.8px #faf8f7;">Condo Corner</div>
<div class="t" style="left:1155.50px;top:722.07px;font:700 20px/1 'Liberation Sans', Arial, sans-serif;color:#3d3d3d;letter-spacing:1.7px;">AVERAGE SALE PRICE</div>
<div class="t" style="left:1154.50px;top:760.34px;font:400 48.5px/1 'Liberation Sans', Arial, sans-serif;color:#3d3d3d;letter-spacing:-0.5px;-webkit-text-stroke:1px #faf8f7;">$491,672</div>
<div class="t" style="left:1160.50px;top:828.89px;font:400 19.5px/1 'Liberation Sans', Arial, sans-serif;color:#d94b40;">-3.3%</div>
<div class="t" style="left:1155.50px;top:882.97px;font:700 20px/1 'Liberation Sans', Arial, sans-serif;color:#3d3d3d;letter-spacing:1.86px;">CONDO SALES</div>
<div class="t" style="left:1154.00px;top:920.88px;font:400 50px/1 'Liberation Sans', Arial, sans-serif;color:#3d3d3d;letter-spacing:2.2px;-webkit-text-stroke:1px #faf8f7;">39</div>
<div class="t" style="left:1160.50px;top:985.39px;font:400 19.5px/1 'Liberation Sans', Arial, sans-serif;color:#d94b40;">-17.0%</div>
<div class="r" style="left:1161.6px;top:1072.6px;width:1.5px;height:259px;background:#4a4a4a;"></div>
<div class="t" style="left:1262.50px;top:1092.27px;font:700 20px/1 'Liberation Sans', Arial, sans-serif;color:#3d3d3d;letter-spacing:1.86px;transform:translateX(-50%);margin-left:0.93px;">CONDO SALES</div>
<div class="t" style="left:1463.20px;top:1092.27px;font:700 20px/1 'Liberation Sans', Arial, sans-serif;color:#3d3d3d;letter-spacing:2.0px;transform:translateX(-50%);margin-left:1.00px;">AVG. PRICE</div>
<div class="t" style="left:1262.00px;top:1145.59px;font:400 26px/1 'Liberation Sans', Arial, sans-serif;color:#3d3d3d;transform:translateX(-50%);">47</div>
<div class="t" style="left:1462.00px;top:1145.59px;font:400 26px/1 'Liberation Sans', Arial, sans-serif;color:#3d3d3d;transform:translateX(-50%);">$508,453</div>
<div class="t" style="left:1140.6px;top:1153.00px;font:700 21px/1 'Liberation Sans', Arial, sans-serif;color:#3d3d3d;letter-spacing:0.5px;-webkit-text-stroke:0.5px #faf8f7;transform:translate(-50%,-50%) rotate(-90deg) scaleX(1.2);">’24</div>
<div class="t" style="left:1262.00px;top:1216.59px;font:400 26px/1 'Liberation Sans', Arial, sans-serif;color:#3d3d3d;transform:translateX(-50%);">54</div>
<div class="t" style="left:1462.00px;top:1216.59px;font:400 26px/1 'Liberation Sans', Arial, sans-serif;color:#3d3d3d;transform:translateX(-50%);">$556,876</div>
<div class="t" style="left:1140.6px;top:1225.20px;font:700 21px/1 'Liberation Sans', Arial, sans-serif;color:#3d3d3d;letter-spacing:0.5px;-webkit-text-stroke:0.5px #faf8f7;transform:translate(-50%,-50%) rotate(-90deg) scaleX(1.2);">’23</div>
<div class="t" style="left:1262.00px;top:1286.49px;font:400 26px/1 'Liberation Sans', Arial, sans-serif;color:#3d3d3d;transform:translateX(-50%);">38</div>
<div class="t" style="left:1462.00px;top:1286.49px;font:400 26px/1 'Liberation Sans', Arial, sans-serif;color:#3d3d3d;transform:translateX(-50%);">$573,515</div>
<div class="t" style="left:1140.6px;top:1296.10px;font:700 21px/1 'Liberation Sans', Arial, sans-serif;color:#3d3d3d;letter-spacing:0.5px;-webkit-text-stroke:0.5px #faf8f7;transform:translate(-50%,-50%) rotate(-90deg) scaleX(1.2);">’22</div>
<div class="r" style="left:1099px;top:1372px;width:477px;height:241px;background:#da4c42;"></div>
<div class="t" style="left:1345.50px;top:1393.11px;font:400 118px/1 'Liberation Sans', Arial, sans-serif;color:#fff;letter-spacing:-1.6px;transform:translateX(-50%);margin-left:-0.80px;-webkit-text-stroke:2.2px #da4c42;">3.97</div>
<div class="t" style="left:1344.20px;top:1528.84px;font:700 25px/1 'Liberation Sans', Arial, sans-serif;color:#fff;letter-spacing:2.9px;transform:translateX(-50%);margin-left:1.45px;">MONTHS OF INVENTORY</div>
<div class="t" style="left:1343.80px;top:1559.45px;font:400 20.5px/1 'Liberation Sans', Arial, sans-serif;color:#fff;transform:translateX(-50%);">All Home Types</div>
</body></html>
